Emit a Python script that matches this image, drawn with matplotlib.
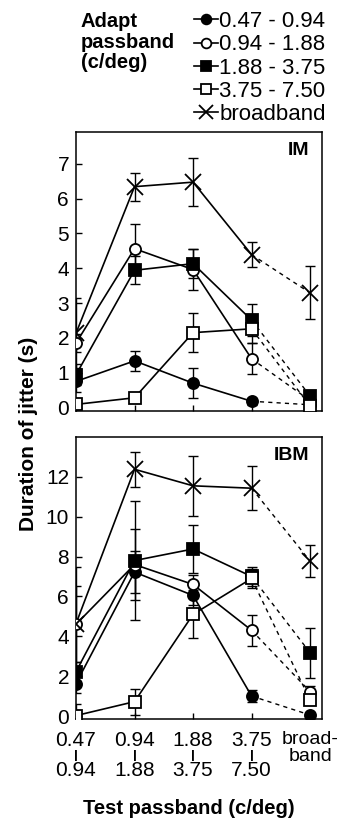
import matplotlib
matplotlib.use('Agg')
import matplotlib.pyplot as plt
from matplotlib.lines import Line2D

plt.rcParams['font.family'] = ['Liberation Sans', 'DejaVu Sans']

xpos = [0, 1, 2, 3, 4]
xlabels = ['0.47\nı\n0.94', '0.94\nı\n1.88', '1.88\nı\n3.75', '3.75\nı\n7.50', 'broad-\nband']
series_names = ['0.47 - 0.94', '0.94 - 1.88', '1.88 - 3.75', '3.75 - 7.50', 'broadband']

# IM panel: values and error half-widths (last value = broadband test)
im_fc = [0.75, 1.34, 0.70, 0.18, 0.08]
im_fc_err = [0.3, 0.28, 0.43, 0.1, 0.05]
im_oc = [1.85, 4.56, 3.96, 1.40, 0.20]
im_oc_err = [0.25, 0.72, 0.6, 0.45, 0.1]
im_fs = [0.94, 3.94, 4.13, 2.51, 0.33]
im_fs_err = [0.3, 0.4, 0.42, 0.45, 0.1]
im_os = [0.09, 0.28, 2.15, 2.26, 0.04]
im_os_err = [0.1, 0.1, 0.55, 0.4, 0.05]
im_bb = [2.13, 6.34, 6.47, 4.39, 3.29]
im_bb_err = [1.0, 0.4, 0.68, 0.36, 0.76]

# IBM panel
ibm_fc = [1.63, 7.22, 6.05, 1.0, 0.05]
ibm_fc_err = [0.5, 1.05, 0.5, 0.3, 0.05]
ibm_oc = [4.6, 7.6, 6.6, 4.3, 1.22]
ibm_oc_err = [1.9, 1.8, 0.5, 0.77, 0.3]
ibm_fs = [2.22, 7.8, 8.38, 7.0, 3.17]
ibm_fs_err = [0.5, 3.0, 1.2, 0.5, 1.27]
ibm_os = [0.02, 0.72, 5.1, 6.9, 0.8]
ibm_os_err = [0.6, 0.65, 1.2, 0.5, 0.2]
ibm_bb = [4.63, 12.38, 11.55, 11.43, 7.77]
ibm_bb_err = [2.85, 0.87, 1.5, 1.1, 0.8]

styles = [
    dict(marker='o', mfc='black'),
    dict(marker='o', mfc='white'),
    dict(marker='s', mfc='black'),
    dict(marker='s', mfc='white'),
    dict(marker='x', mfc='black'),
]
msizes = [8, 8, 8, 8, 11]

fig = plt.figure(figsize=(3.37, 8.27), dpi=100)
ax1 = fig.add_axes([0.2255, 0.503, 0.7295, 0.337])
ax2 = fig.add_axes([0.2255, 0.1306, 0.7295, 0.341])


def draw(ax, data, errs):
    for i, (y, e) in enumerate(zip(data, errs)):
        st = styles[i]
        z = 3 + i
        ax.errorbar(xpos, y, yerr=e, fmt='none', ecolor='black',
                    elinewidth=1.0, capsize=3.5, capthick=1.0, zorder=2)
        ax.plot(xpos[:4], y[:4], color='black', lw=1.2, zorder=z)
        ax.plot(xpos[3:], y[3:], color='black', lw=1.0, ls=(0, (3, 3)), zorder=z)
        ax.plot(xpos, y, ls='none', marker=st['marker'], mfc=st['mfc'],
                mec='black', ms=msizes[i], mew=1.3, zorder=z + 10)
    ax.set_xlim(0, 4.2)
    ax.set_xticks(xpos)
    ax.tick_params(direction='in', length=4, width=1, labelsize=15)
    ax.tick_params(axis='x', pad=9)
    ax.tick_params(axis='y', pad=5)
    for s in ax.spines.values():
        s.set_linewidth(1.1)


draw(ax1, [im_fc, im_oc, im_fs, im_os, im_bb],
     [im_fc_err, im_oc_err, im_fs_err, im_os_err, im_bb_err])
ax1.set_ylim(-0.1, 7.9)
ax1.set_yticks(range(0, 8))
ax1.set_xticklabels([])
ax1.text(0.95, 0.965, 'IM', transform=ax1.transAxes, ha='right', va='top',
         fontsize=14, fontweight='bold')

draw(ax2, [ibm_fc, ibm_oc, ibm_fs, ibm_os, ibm_bb],
     [ibm_fc_err, ibm_oc_err, ibm_fs_err, ibm_os_err, ibm_bb_err])
ax2.set_ylim(-0.15, 14)
ax2.set_yticks(range(0, 14, 2))
ax2.set_xticklabels(xlabels, linespacing=0.72)
bb_lab = ax2.get_xticklabels()[4]
bb_lab.set_linespacing(0.95)
bb_lab.set_fontsize(14)
bb_lab.set_multialignment('center')
ax2.text(0.95, 0.965, 'IBM', transform=ax2.transAxes, ha='right', va='top',
         fontsize=14, fontweight='bold')

fig.text(0.085, 0.475, 'Duration of jitter (s)', rotation=90, ha='center',
         va='center', fontsize=15, fontweight='bold')
fig.text(0.56, 0.022, 'Test passband (c/deg)', ha='center', va='center',
         fontsize=14.5, fontweight='bold')

fig.text(0.24, 0.985, 'Adapt\npassband\n(c/deg)', ha='left', va='top',
         fontsize=14.5, fontweight='bold', linespacing=1.1)

handles = [Line2D([], [], color='black', lw=1.2, marker=styles[i]['marker'],
                  mfc=styles[i]['mfc'], mec='black', ms=msizes[i] - 1, mew=1.3)
           for i in range(5)]
fig.legend(handles, series_names, loc='upper right', bbox_to_anchor=(1.0, 1.0),
           frameon=False, fontsize=16, handlelength=1.1, handletextpad=0.05,
           labelspacing=0.1, borderaxespad=0.3, borderpad=0.2)

fig.savefig('out.png', dpi=100)
